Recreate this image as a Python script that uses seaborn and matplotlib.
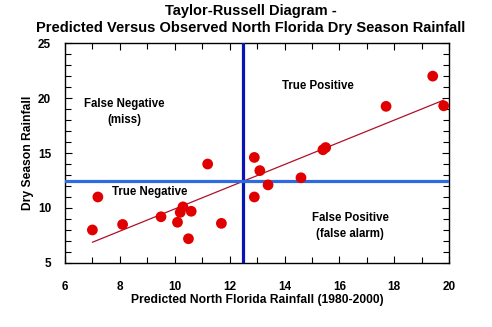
import numpy as np
import pandas as pd
import matplotlib
matplotlib.use("Agg")
import matplotlib.pyplot as plt
from matplotlib.ticker import MultipleLocator
import seaborn as sns

# Predicted vs observed dry-season rainfall, 1980-2000
predicted = [7.0, 7.2, 8.1, 9.5, 10.1, 10.2, 10.3, 10.6, 10.5, 11.2, 11.7,
             12.9, 13.1, 13.4, 12.9, 14.6, 15.4, 15.5, 17.7, 19.4, 19.8]
observed = [8.0, 11.0, 8.5, 9.2, 8.7, 9.6, 10.1, 9.7, 7.2, 14.0, 8.6,
            14.6, 13.4, 12.1, 11.0, 12.75, 15.3, 15.5, 19.25, 22.0, 19.3]

threshold_x = 12.5
threshold_y = 12.5

x_ticks = [6, 8, 10, 12, 14, 16, 18, 20]
y_ticks = [5, 10, 15, 20, 25]

quadrant_labels = ["True Positive", "False Negative\n(miss)",
                   "True Negative", "False Positive\n(false alarm)"]
quadrant_pos = [(15.2, 21.1), (8.15, 18.7), (9.07, 11.45), (16.4, 8.35)]

df = pd.DataFrame({"Predicted": predicted, "Observed": observed})

sns.set_style("white")
plt.rcParams["font.family"] = ["Liberation Sans", "DejaVu Sans"]
plt.rcParams["font.weight"] = "bold"
plt.rcParams["text.color"] = "black"
plt.rcParams["axes.labelcolor"] = "black"
plt.rcParams["xtick.color"] = "black"
plt.rcParams["ytick.color"] = "black"

fig = plt.figure(figsize=(4.92, 3.27), dpi=100)
ax = fig.add_axes([0.132, 0.196, 0.781, 0.672])

# least-squares fit line over the data range
sns.regplot(data=df, x="Predicted", y="Observed", ax=ax, ci=None,
            truncate=True, scatter=False,
            line_kws=dict(color="#b0102a", lw=0.9, zorder=2))

ax.axvline(threshold_x, color="#0a14b4", lw=2.3, zorder=3)
ax.axhline(threshold_y, color="#2f6be0", lw=2.3, zorder=3)

sns.scatterplot(data=df, x="Predicted", y="Observed", ax=ax,
                color="#e00000", s=60, edgecolor="none", zorder=4)

for txt, (tx, ty) in zip(quadrant_labels, quadrant_pos):
    ax.text(tx, ty, txt, ha="center", va="center", fontsize=8.3,
            fontweight="bold", linespacing=1.45, color="black")

ax.set_xlim(6, 20)
ax.set_ylim(5, 25)
ax.set_xticks(x_ticks)
ax.set_yticks(y_ticks)
ax.xaxis.set_minor_locator(MultipleLocator(1))
ax.yaxis.set_minor_locator(MultipleLocator(1))
ax.tick_params(which="both", direction="in", top=True, right=True,
               bottom=True, left=True, color="black", width=0.8,
               labelcolor="black")
ax.tick_params(which="major", length=5, labelsize=8.5)
ax.tick_params(which="minor", length=4)
ax.tick_params(axis="x", which="major", pad=13)
ax.tick_params(axis="y", which="major", pad=10)
for lbl in ax.get_xticklabels() + ax.get_yticklabels():
    lbl.set_fontweight("bold")

for sp in ax.spines.values():
    sp.set_color("black")
    sp.set_linewidth(1.0)

ax.set_xlabel("Predicted North Florida Rainfall (1980-2000)", fontsize=8.7,
              fontweight="bold", labelpad=1, color="black")
ax.set_ylabel("Dry Season Rainfall", fontsize=8.7, fontweight="bold",
              labelpad=3, color="black")

fig.suptitle("Taylor-Russell Diagram -\nPredicted Versus Observed North Florida Dry Season Rainfall",
             fontsize=10.5, fontweight="bold", x=0.51, y=0.988,
             linespacing=1.25, color="black")

fig.savefig("out.png", dpi=100, facecolor="white")
